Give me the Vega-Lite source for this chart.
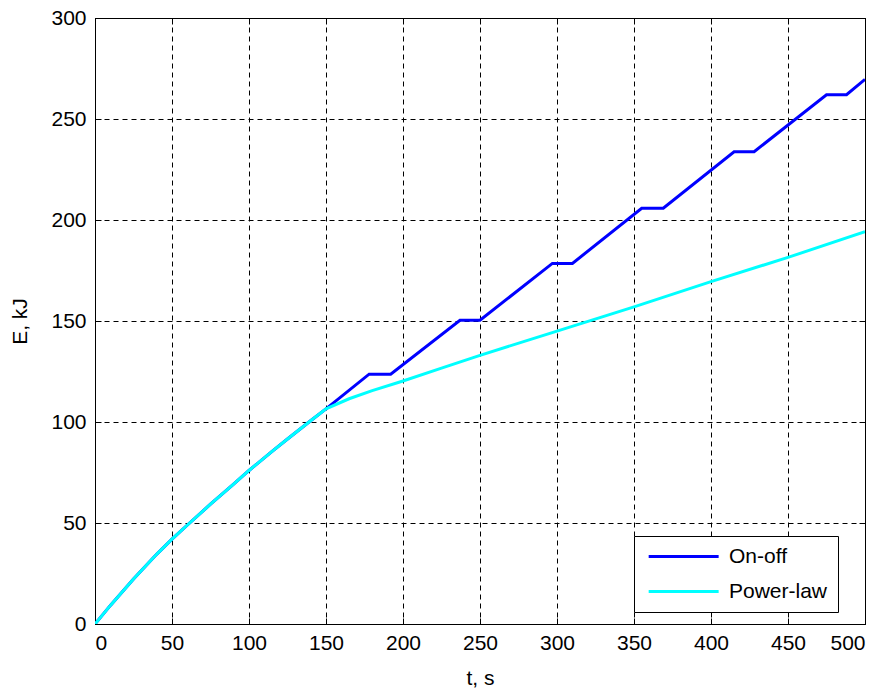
{
  "$schema": "https://vega.github.io/schema/vega-lite/v6.json",
  "width": 770,
  "height": 606,
  "autosize": {"type": "none"},
  "padding": {"left": 95, "top": 18, "right": 22, "bottom": 66},
  "background": "white",
  "config": {
    "font": "Liberation Sans",
    "view": {"stroke": "black", "strokeWidth": 1},
    "axis": {
      "domainColor": "black",
      "domainWidth": 1,
      "tickColor": "black",
      "tickSize": -6,
      "tickWidth": 1,
      "labelColor": "black",
      "labelFontSize": 21,
      "labelFont": "Liberation Sans",
      "titleColor": "black",
      "titleFontSize": 21,
      "titleFont": "Liberation Sans",
      "titleFontWeight": "normal",
      "gridColor": "black",
      "gridOpacity": 1,
      "gridDash": [5, 4],
      "gridWidth": 1
    }
  },
  "data": {
    "values": [
      {"t": 0, "E": 0, "series": "On-off"},
      {"t": 10, "E": 9.2, "series": "On-off"},
      {"t": 25, "E": 22.3, "series": "On-off"},
      {"t": 40, "E": 34.5, "series": "On-off"},
      {"t": 50, "E": 42, "series": "On-off"},
      {"t": 60, "E": 49, "series": "On-off"},
      {"t": 75, "E": 59.3, "series": "On-off"},
      {"t": 90, "E": 69.3, "series": "On-off"},
      {"t": 100, "E": 76, "series": "On-off"},
      {"t": 115, "E": 85.5, "series": "On-off"},
      {"t": 125, "E": 91.6, "series": "On-off"},
      {"t": 140, "E": 100.6, "series": "On-off"},
      {"t": 150, "E": 106.5, "series": "On-off"},
      {"t": 178, "E": 123.7, "series": "On-off"},
      {"t": 192, "E": 123.7, "series": "On-off"},
      {"t": 237, "E": 150.4, "series": "On-off"},
      {"t": 250, "E": 150.4, "series": "On-off"},
      {"t": 297, "E": 178.5, "series": "On-off"},
      {"t": 310, "E": 178.5, "series": "On-off"},
      {"t": 355, "E": 205.8, "series": "On-off"},
      {"t": 369, "E": 205.8, "series": "On-off"},
      {"t": 415, "E": 233.8, "series": "On-off"},
      {"t": 428, "E": 233.8, "series": "On-off"},
      {"t": 475, "E": 262, "series": "On-off"},
      {"t": 488, "E": 262, "series": "On-off"},
      {"t": 500, "E": 269.6, "series": "On-off"},

      {"t": 0, "E": 0, "series": "Power-law"},
      {"t": 10, "E": 9.2, "series": "Power-law"},
      {"t": 25, "E": 22.3, "series": "Power-law"},
      {"t": 40, "E": 34.5, "series": "Power-law"},
      {"t": 50, "E": 42, "series": "Power-law"},
      {"t": 60, "E": 49, "series": "Power-law"},
      {"t": 75, "E": 59.3, "series": "Power-law"},
      {"t": 90, "E": 69.3, "series": "Power-law"},
      {"t": 100, "E": 76, "series": "Power-law"},
      {"t": 115, "E": 85.5, "series": "Power-law"},
      {"t": 125, "E": 91.6, "series": "Power-law"},
      {"t": 140, "E": 100.6, "series": "Power-law"},
      {"t": 150, "E": 106.5, "series": "Power-law"},
      {"t": 165, "E": 111.5, "series": "Power-law"},
      {"t": 180, "E": 115.5, "series": "Power-law"},
      {"t": 200, "E": 120.3, "series": "Power-law"},
      {"t": 225, "E": 126.7, "series": "Power-law"},
      {"t": 250, "E": 133, "series": "Power-law"},
      {"t": 300, "E": 145, "series": "Power-law"},
      {"t": 350, "E": 157, "series": "Power-law"},
      {"t": 400, "E": 169.5, "series": "Power-law"},
      {"t": 450, "E": 181.5, "series": "Power-law"},
      {"t": 500, "E": 194.2, "series": "Power-law"}
    ]
  },
  "resolve": {"axis": {"x": "independent", "y": "independent"}},
  "layer": [
    {
      "mark": {"type": "line", "strokeWidth": 3, "clip": true},
      "encoding": {
        "x": {
          "field": "t",
          "type": "quantitative",
          "scale": {"domain": [0, 500], "nice": false, "zero": false},
          "axis": {
            "orient": "bottom",
            "values": [0, 50, 100, 150, 200, 250, 300, 350, 400, 450, 500],
            "grid": true,
            "labelPadding": 14,
            "title": "t, s",
            "titlePadding": 14
          }
        },
        "y": {
          "field": "E",
          "type": "quantitative",
          "scale": {"domain": [0, 300], "nice": false},
          "axis": {
            "orient": "left",
            "values": [0, 50, 100, 150, 200, 250, 300],
            "grid": true,
            "labelPadding": 15,
            "title": "E, kJ",
            "titlePadding": 20
          }
        },
        "color": {
          "field": "series",
          "type": "nominal",
          "scale": {"domain": ["On-off", "Power-law"], "range": ["#0000ff", "#00ffff"]},
          "legend": {
            "title": null,
            "orient": "none",
            "legendX": 539,
            "legendY": 518,
            "fillColor": "white",
            "strokeColor": "black",
            "padding": 10,
            "symbolType": "M-1,0H11",
            "symbolSize": 136,
            "symbolStrokeWidth": 3,
            "labelFontSize": 21,
            "labelColor": "black",
            "labelFont": "Liberation Sans",
            "labelOffset": 64,
            "rowPadding": 13
          }
        }
      }
    },
    {
      "mark": {"type": "line", "strokeOpacity": 0},
      "encoding": {
        "x": {
          "field": "t",
          "type": "quantitative",
          "axis": {
            "orient": "top",
            "values": [0, 50, 100, 150, 200, 250, 300, 350, 400, 450, 500],
            "grid": false,
            "labels": false,
            "title": null
          }
        },
        "y": {
          "field": "E",
          "type": "quantitative",
          "axis": {
            "orient": "right",
            "values": [0, 50, 100, 150, 200, 250, 300],
            "grid": false,
            "labels": false,
            "title": null
          }
        },
        "detail": {"field": "series", "type": "nominal"}
      }
    }
  ]
}
